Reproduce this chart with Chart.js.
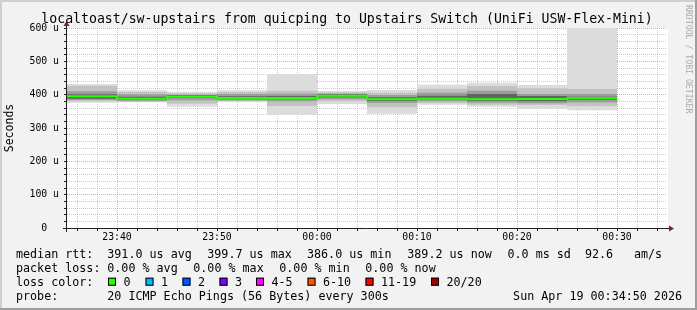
<!DOCTYPE html>
<html lang="en">
<head>
<meta charset="UTF-8">
<title>SmokePing sw-upstairs</title>
<script src="https://cdn.jsdelivr.net/npm/chart.js"></script>
<style>
  html, body { margin: 0; padding: 0; background: #f2f2f2; }
</style>
</head>
<body>
<canvas id="smoke" width="697" height="310"></canvas>
<script>
// 5 minute rounds (segment start times), axis range and time labels
const segStart = ['23:35', '23:40', '23:45', '23:50', '23:55', '00:00', '00:05', '00:10', '00:15', '00:20', '00:25'];
const lastEnd = '00:30';
const axisStart = '23:35';
const axisEnd = '00:35';
const timeLabels = ['23:40', '23:50', '00:00', '00:10', '00:20', '00:30'];

// smoke layers (microseconds), outermost to innermost
const outerHi = [432, 413, 409, 413, 462, 411, 414, 430, 436, 429, 600];
const midHi   = [426, 408, 404, 408, 412, 407, 406, 418, 426, 419, 417];
const innerHi = [410, 401, 400, 402, 403, 403, 399, 406, 412, 402, 402];
const coreHi  = [401, 394, 398, 395, 396, 401, 392, 397, 402, 396, 394];
const medianRtt = [395, 388, 394, 390, 390, 397, 386, 388, 386, 387, 389.2];
const coreLo  = [388, 384, 390, 386, 386, 392, 381, 384, 381, 380, 384];
const innerLo = [384, 381, 383, 383, 380, 386, 375, 380, 376, 374, 377];
const midLo   = [380, 379, 373, 380, 366, 380, 362, 375, 370, 369, 366];
const outerLo = [376, 377, 364, 378, 339, 372, 343, 370, 364, 357, 353];

// legend
const chartTitle = 'localtoast/sw-upstairs from quicping to Upstairs Switch (UniFi USW-Flex-Mini)';
const medianText = ['391.0 us avg', '399.7 us max', '386.0 us min', '389.2 us now', '0.0 ms sd', '92.6', 'am/s'];
const lossText = ['0.00 % avg', '0.00 % max', '0.00 % min', '0.00 % now'];
const lossLabels = ['0', '1', '2', '3', '4-5', '6-10', '11-19', '20/20'];
const lossColors = ['#26ff00', '#00b8ff', '#0059ff', '#7e00ff', '#ff00ff', '#ff5500', '#ff0000', '#a10000'];
const probeText = '20 ICMP Echo Pings (56 Bytes) every 300s';
const stampText = 'Sun Apr 19 00:34:50 2026';

const MONO = '"DejaVu Sans Mono", monospace';
const majorGrid = 'rgba(222,79,79,0.5)';
const minorGrid = 'rgba(143,143,143,0.45)';

function toMin(s) {
  const [h, m] = s.split(':').map(Number);
  const t = h * 60 + m;
  return t >= 720 ? t - 1440 : t;
}

// one point per round plus the end of the last round, drawn as steps
function steps(vals) {
  return vals.map((v, i) => ({x: toMin(segStart[i]), y: v}))
    .concat([{x: toMin(lastEnd), y: vals[vals.length - 1]}]);
}

function band(lo, hi, color, order) {
  const base = {borderWidth: 0, borderColor: 'transparent', pointRadius: 0, stepped: true, order: order};
  return [
    Object.assign({data: steps(lo), fill: false}, base),
    Object.assign({data: steps(hi), fill: '-1', backgroundColor: color}, base)
  ];
}

const datasets = [
  ...band(outerLo, outerHi, '#dcdcdc', 5),
  ...band(midLo, midHi, '#c2c2c2', 4),
  ...band(innerLo, innerHi, '#9c9c9c', 3),
  ...band(coreLo, coreHi, '#646464', 2),
  {data: steps(medianRtt), borderColor: '#26ff00', borderWidth: 2, pointRadius: 0, stepped: true, fill: false, order: 0}
];

// minor time grid every 2 minutes, on whole even minutes
function timeTicks(scale) {
  const ticks = [];
  for (let v = Math.ceil(scale.min / 2) * 2; v < scale.max; v += 2) {
    ticks.push({value: v});
  }
  scale.ticks = ticks;
}

// rrdtool look: frame, axes with arrows, title, legend text
const rrdFrame = {
  id: 'rrdFrame',
  beforeDraw(chart) {
    const {ctx, width, height, chartArea: a} = chart;
    ctx.save();
    ctx.fillStyle = '#f2f2f2';
    ctx.fillRect(0, 0, width, height);
    ctx.fillStyle = '#cfcfcf';
    ctx.fillRect(0, 0, width, 2);
    ctx.fillRect(0, 0, 2, height);
    ctx.fillStyle = '#9e9e9e';
    ctx.fillRect(0, height - 2, width, 2);
    ctx.fillRect(width - 2, 0, 2, height);
    ctx.fillStyle = '#ffffff';
    ctx.fillRect(a.left, a.top, a.right - a.left + 1, a.bottom - a.top);
    ctx.restore();
  },
  afterDraw(chart) {
    const {ctx, chartArea: a} = chart;
    ctx.save();
    ctx.strokeStyle = '#1f1f1f';
    ctx.lineWidth = 1;
    ctx.beginPath();
    ctx.moveTo(a.left - 4, a.bottom + 0.5);
    ctx.lineTo(a.right + 3, a.bottom + 0.5);
    ctx.moveTo(a.left - 0.5, a.bottom + 4);
    ctx.lineTo(a.left - 0.5, a.top - 3);
    ctx.stroke();

    ctx.fillStyle = '#801f1f';
    ctx.beginPath();
    ctx.moveTo(a.left - 3.5, a.top - 2);
    ctx.lineTo(a.left + 2.5, a.top - 2);
    ctx.lineTo(a.left - 0.5, a.top - 7);
    ctx.closePath();
    ctx.fill();
    ctx.beginPath();
    ctx.moveTo(a.right + 2, a.bottom - 2.5);
    ctx.lineTo(a.right + 2, a.bottom + 3.5);
    ctx.lineTo(a.right + 7, a.bottom + 0.5);
    ctx.closePath();
    ctx.fill();

    // title
    ctx.fillStyle = '#000';
    ctx.font = '13.2px ' + MONO;
    ctx.textAlign = 'center';
    ctx.textBaseline = 'alphabetic';
    ctx.fillText(chartTitle, 347, 23);

    // legend
    ctx.font = '11.7px ' + MONO;
    ctx.textAlign = 'left';
    const rows = [258, 272, 285.7, 299.5];
    ctx.fillText('median rtt:', 16, rows[0]);
    [107.3, 207.3, 307, 407.3, 507.5, 585, 634].forEach((x, i) => ctx.fillText(medianText[i], x, rows[0]));
    ctx.fillText('packet loss:', 16, rows[1]);
    [107.3, 193.3, 279.3, 365.3].forEach((x, i) => ctx.fillText(lossText[i], x, rows[1]));
    ctx.fillText('loss color:', 16, rows[2]);
    [108, 145.5, 182.5, 219.5, 256, 307.5, 365.5, 431].forEach((x, i) => {
      ctx.fillStyle = lossColors[i];
      ctx.fillRect(x, rows[2] - 8, 8, 8);
      ctx.strokeStyle = '#000';
      ctx.strokeRect(x + 0.5, rows[2] - 7.5, 7, 7);
      ctx.fillStyle = '#000';
      ctx.fillText(lossLabels[i], x + 15.5, rows[2]);
    });
    ctx.fillText('probe:', 16, rows[3]);
    ctx.fillText(probeText, 107.3, rows[3]);
    ctx.textAlign = 'right';
    ctx.fillText(stampText, 682, rows[3]);

    // watermark
    ctx.translate(688.5, 5);
    ctx.rotate(Math.PI / 2);
    ctx.font = '8.2px ' + MONO;
    ctx.fillStyle = '#aaaaaa';
    ctx.textAlign = 'left';
    ctx.textBaseline = 'middle';
    ctx.fillText('RRDTOOL / TOBI OETIKER', 0, 0);
    ctx.restore();
  }
};

new Chart(document.getElementById('smoke').getContext('2d'), {
  type: 'line',
  data: {datasets: datasets},
  options: {
    responsive: false,
    animation: false,
    events: [],
    layout: {padding: {left: 0, right: 30, top: 28, bottom: 0}},
    plugins: {legend: {display: false}, tooltip: {enabled: false}, title: {display: false}},
    scales: {
      x: {
        type: 'linear',
        min: toMin(axisStart),
        max: toMin(axisEnd),
        z: 1,
        afterBuildTicks: timeTicks,
        afterFit: s => { s.height = 82; },
        border: {display: false, dash: [1, 1]},
        grid: {
          color: c => (c.tick && c.tick.value % 10 === 0) ? majorGrid : minorGrid,
          borderDash: [1, 1],
          lineWidth: 1,
          tickLength: 3,
          tickColor: '#1f1f1f'
        },
        ticks: {
          autoSkip: false,
          maxRotation: 0,
          padding: 1,
          color: '#000',
          font: {family: MONO, size: 9.8},
          callback: v => {
            const i = timeLabels.findIndex(t => toMin(t) === v);
            return i < 0 ? '' : timeLabels[i];
          }
        }
      },
      y: {
        min: 0,
        max: 600,
        z: 1,
        afterFit: s => { s.width = 67; },
        border: {display: false, dash: [1, 1]},
        grid: {
          color: c => (c.tick && c.tick.value % 100 === 0) ? majorGrid : minorGrid,
          borderDash: [1, 1],
          lineWidth: 1,
          tickLength: 3,
          tickColor: '#1f1f1f'
        },
        ticks: {
          stepSize: 20,
          autoSkip: false,
          padding: 5,
          color: '#000',
          font: {family: MONO, size: 9.8},
          callback: v => (v % 100 !== 0) ? '' : (v === 0 ? '0  ' : v + ' u')
        },
        title: {
          display: true,
          text: 'Seconds',
          color: '#000',
          font: {family: MONO, size: 11.5},
          padding: {top: 3, bottom: 0}
        }
      }
    }
  },
  plugins: [rrdFrame]
});
</script>
</body>
</html>
